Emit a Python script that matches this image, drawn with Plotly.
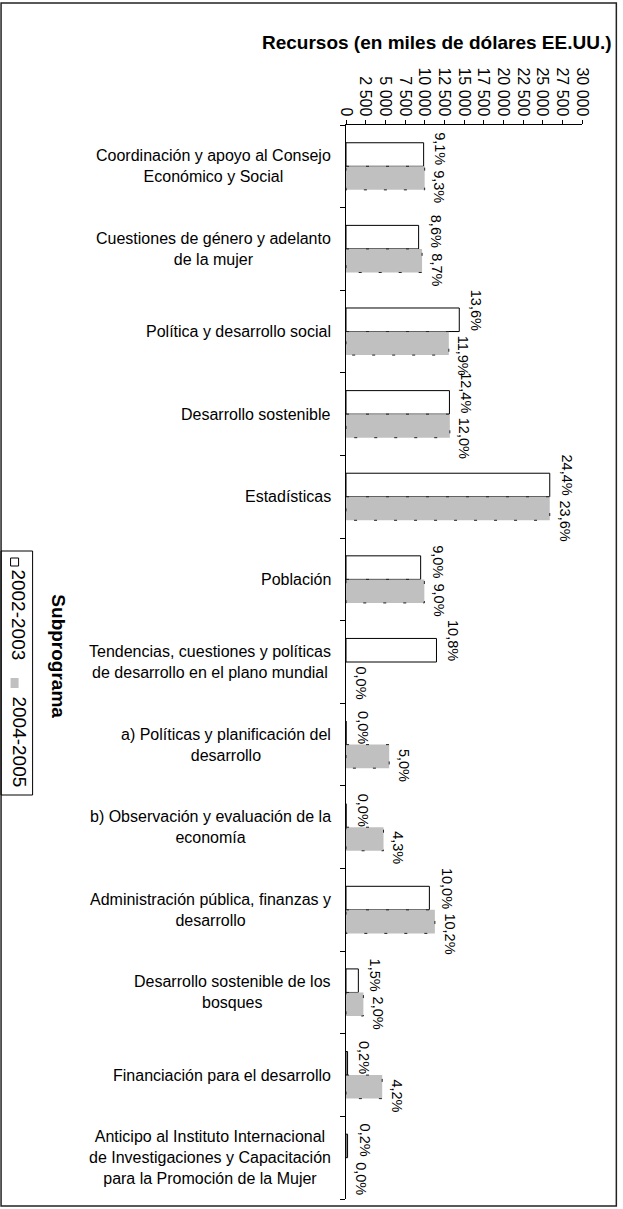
import plotly.graph_objects as go

categories = [
    "Coordinación y apoyo al Consejo<br>Económico y Social",
    "Cuestiones de género y adelanto<br>de la mujer",
    "Política y desarrollo social",
    "Desarrollo sostenible",
    "Estadísticas",
    "Población",
    "Tendencias, cuestiones y políticas<br>de desarrollo en el plano mundial",
    "a) Políticas y planificación del<br>desarrollo",
    "b) Observación y evaluación de la<br>economía",
    "Administración pública, finanzas y<br>desarrollo",
    "Desarrollo sostenible de los<br>bosques",
    "Financiación para el desarrollo",
    "Anticipo al Instituto Internacional<br>de Investigaciones y Capacitación<br>para la Promoción de la Mujer",
]
series_names = ["2002-2003", "2004-2005"]
values_2002_2003 = [9870, 9230, 14400, 13150, 25900, 9490, 11500, 0, 0, 10600, 1570, 200, 200]
values_2004_2005 = [10000, 9670, 13070, 13200, 25900, 9960, 0, 5490, 4770, 11300, 2210, 4600, 0]
labels_2002_2003 = ["9,1%", "8,6%", "13,6%", "12,4%", "24,4%", "9,0%", "10,8%", "0,0%", "0,0%", "10,0%", "1,5%", "0,2%", "0,2%"]
labels_2004_2005 = ["9,3%", "8,7%", "11,9%", "12,0%", "23,6%", "9,0%", "0,0%", "5,0%", "4,3%", "10,2%", "2,0%", "4,2%", "0,0%"]
x_ticks = list(range(0, 30001, 2500))
axis_title = "Recursos (en miles de dólares EE.UU.)"
y_title = "Subprograma"

W, H = 623, 1209
L, R, T, B = 346, 581.7, 125, 1199
FONT = "Liberation Sans, Arial, sans-serif"
BARGAP = 0.43
LABEL_SIZE = 14.5

def px(x):
    return (x - L) / (R - L)

def py(y):
    return (B - y) / (B - T)

pos = list(range(len(categories)))

fig = go.Figure()
fig.add_trace(go.Bar(
    y=pos, x=values_2002_2003, orientation="h", name=series_names[0],
    marker=dict(color="white", line=dict(color="black", width=1)),
))
fig.add_trace(go.Bar(
    y=pos, x=values_2004_2005, orientation="h", name=series_names[1],
    marker=dict(color="#c0c0c0", line=dict(width=0)),
))

shapes = []
half = (1 - BARGAP) / 2
for i, v in enumerate(values_2004_2005):
    if v > 0:
        shapes.append(dict(type="rect", xref="x", yref="y", x0=0, x1=v,
                           y0=i, y1=i + half, layer="above",
                           line=dict(color="#222222", width=1, dash="3px,17px")))

# outer frame
shapes.append(dict(type="rect", xref="paper", yref="paper",
                   x0=px(1.5), x1=px(616), y0=py(3), y1=py(1206),
                   line=dict(color="#222222", width=1.5)))
# legend box
shapes.append(dict(type="rect", xref="paper", yref="paper",
                   x0=px(1.5), x1=px(33), y0=py(551), y1=py(795),
                   line=dict(color="black", width=1)))
shapes.append(dict(type="rect", xref="paper", yref="paper",
                   x0=px(11), x1=px(19), y0=py(558), y1=py(566),
                   fillcolor="white", line=dict(color="black", width=1)))
shapes.append(dict(type="rect", xref="paper", yref="paper",
                   x0=px(11), x1=px(19), y0=py(678), y1=py(688),
                   fillcolor="#c0c0c0", line=dict(width=0)))

annotations = []
lab_font = dict(family=FONT, size=LABEL_SIZE, color="black")
for i in pos:
    annotations.append(dict(text=labels_2002_2003[i], x=values_2002_2003[i], y=i,
                            xref="x", yref="y", xanchor="left", yanchor="bottom",
                            xshift=7, yshift=-1, textangle=90, showarrow=False,
                            font=lab_font))
    annotations.append(dict(text=labels_2004_2005[i], x=values_2004_2005[i], y=i,
                            xref="x", yref="y", xanchor="left", yanchor="top",
                            xshift=5, yshift=-2, textangle=90, showarrow=False,
                            font=lab_font))
for i, c in enumerate(categories):
    annotations.append(dict(text=c, x=px(333), xref="paper", y=i, yref="y",
                            xanchor="right", yanchor="middle", align="center",
                            showarrow=False, font=dict(family=FONT, size=16, color="black")))
annotations.append(dict(text="<b>" + axis_title + "</b>", x=px(614), y=py(43),
                        xref="paper", yref="paper", xanchor="right", yanchor="middle",
                        showarrow=False, font=dict(family=FONT, size=19, color="black")))
annotations.append(dict(text="<b>" + y_title + "</b>", x=px(59), y=py(656),
                        xref="paper", yref="paper", xanchor="center", yanchor="middle",
                        textangle=90, showarrow=False,
                        font=dict(family=FONT, size=19, color="black")))
annotations.append(dict(text=series_names[0], x=px(19), y=py(615),
                        xref="paper", yref="paper", xanchor="center", yanchor="middle",
                        textangle=90, showarrow=False,
                        font=dict(family=FONT, size=19, color="black")))
annotations.append(dict(text=series_names[1], x=px(19), y=py(742),
                        xref="paper", yref="paper", xanchor="center", yanchor="middle",
                        textangle=90, showarrow=False,
                        font=dict(family=FONT, size=19, color="black")))

fig.update_layout(
    width=W, height=H,
    margin=dict(l=L, r=W - R, t=T, b=H - B, pad=0, autoexpand=False),
    paper_bgcolor="white", plot_bgcolor="white",
    barmode="group", bargap=BARGAP, bargroupgap=0,
    showlegend=False, separators=", ",
    shapes=shapes, annotations=annotations,
    font=dict(family=FONT, size=16, color="black"),
)
fig.update_xaxes(
    side="top", range=[0, 30000], tickvals=x_ticks, tickformat=",d",
    tickangle=90, ticks="outside", ticklen=4, tickcolor="black",
    showline=True, linecolor="black", linewidth=1, showgrid=False, zeroline=False,
    tickfont=dict(family=FONT, size=16, color="black"), ticklabelstandoff=-2,
)
fig.update_yaxes(
    range=[len(categories) - 0.5, -0.5],
    tickvals=[i - 0.5 for i in range(len(categories) + 1)],
    showticklabels=False, ticks="outside", ticklen=5, tickcolor="black",
    showline=True, linecolor="black", linewidth=1, showgrid=False, zeroline=False,
)

fig.write_html("out.html", config={"displayModeBar": False},
               post_script="document.body.style.margin='0px';document.body.style.overflow='hidden';")
